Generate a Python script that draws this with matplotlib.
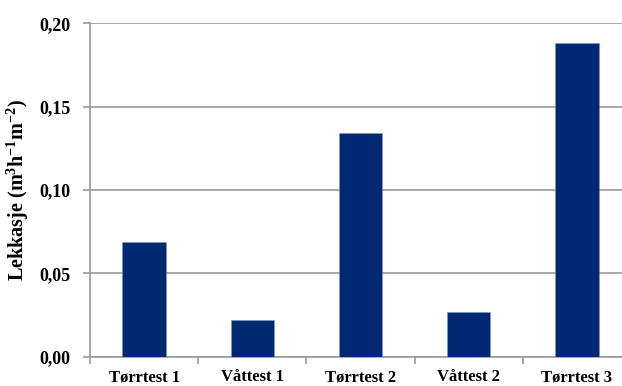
import numpy as np
import matplotlib
matplotlib.use('Agg')
import matplotlib.pyplot as plt

# Leakage per test run
tests = ['Tørrtest 1', 'Våttest 1', 'Tørrtest 2', 'Våttest 2', 'Tørrtest 3']
leakage = [0.069, 0.022, 0.134, 0.027, 0.188]
y_ticks = [0.00, 0.05, 0.10, 0.15, 0.20]
y_tick_labels = ['0,00', '0,05', '0,10', '0,15', '0,20']

BAR_COLOR = '#002873'
GRID_COLOR = '#9a9a9a'

plt.rcParams['font.family'] = 'Liberation Serif'
plt.rcParams['font.weight'] = 'bold'
plt.rcParams['mathtext.fontset'] = 'custom'
plt.rcParams['mathtext.rm'] = 'Liberation Serif:bold'
plt.rcParams['mathtext.bf'] = 'Liberation Serif:bold'

fig = plt.figure(figsize=(6.22, 3.86), dpi=100)
# plot area runs slightly past the right edge of the figure
ax = fig.add_axes([0.1447, 0.0759, 0.8698, 0.8635])

x = np.arange(len(tests))
ax.bar(x, leakage, width=0.4, color=BAR_COLOR, edgecolor='#7f95c0',
       linewidth=0.4, zorder=3)

ax.set_xlim(-0.5, len(tests) - 0.5)
ax.set_ylim(0, 0.20)

ax.set_yticks(y_ticks)
ax.set_yticklabels(y_tick_labels, fontsize=13, fontweight='bold')
ax.yaxis.grid(True, color=GRID_COLOR, linewidth=1.2, zorder=0)
ax.set_axisbelow(True)

# category labels between boundary ticks
ax.set_xticks(x)
ax.set_xticklabels(tests, fontsize=12, fontweight='bold')
ax.tick_params(axis='x', which='major', length=0, pad=9)
ax.set_xticks(np.arange(len(tests) + 1) - 0.5, minor=True)
ax.tick_params(axis='x', which='minor', length=5, color=GRID_COLOR, width=1.2)
ax.tick_params(axis='y', length=5, color=GRID_COLOR, width=1.2, pad=9)

for side in ['top', 'right']:
    ax.spines[side].set_visible(False)
for side in ['left', 'bottom']:
    ax.spines[side].set_color(GRID_COLOR)
    ax.spines[side].set_linewidth(1.2)

ax.set_ylabel(r'Lekkasje (m$^{3}$h$^{-1}$m$^{-2}$)', fontsize=14.5,
              fontweight='bold', labelpad=6)

fig.savefig('out.png', dpi=100)
